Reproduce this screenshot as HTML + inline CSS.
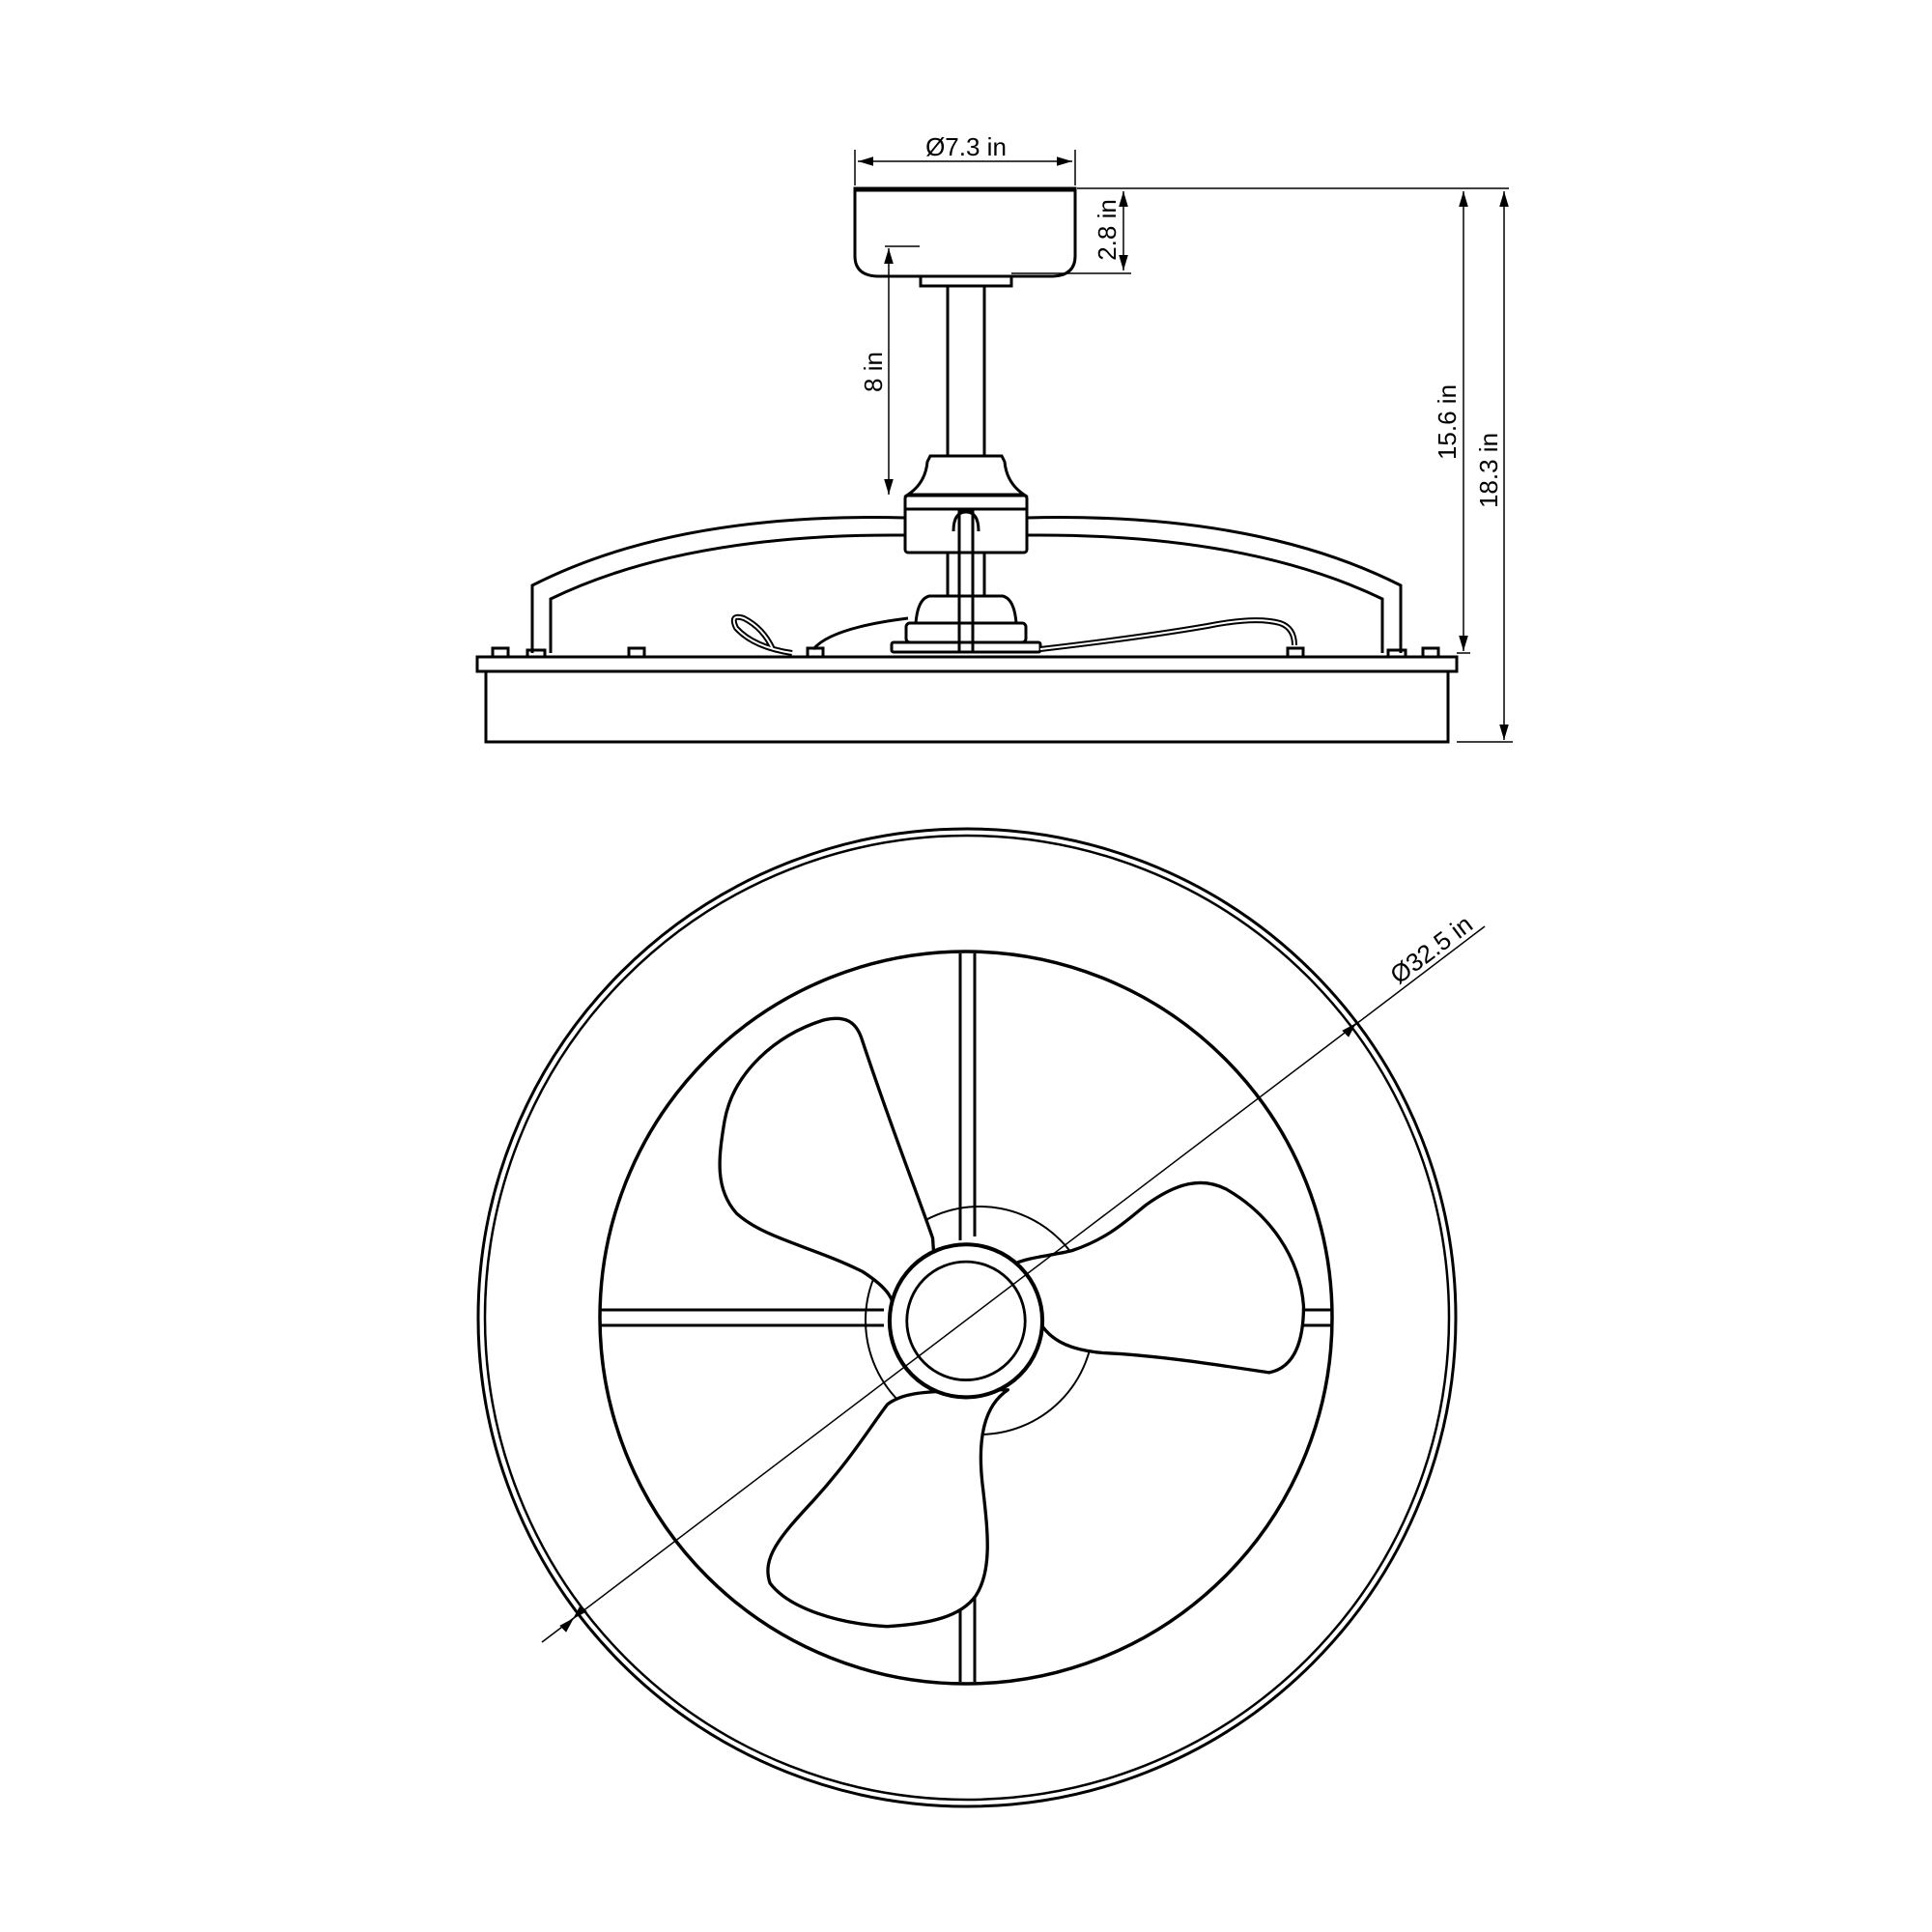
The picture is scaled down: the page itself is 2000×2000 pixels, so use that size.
<!DOCTYPE html>
<html><head><meta charset="utf-8"><style>
html,body{margin:0;padding:0;background:#fff}
svg{display:block}
text{font-family:"Liberation Sans",sans-serif;fill:#000}
</style></head><body>
<svg width="2000" height="2000" viewBox="0 0 2000 2000" xmlns="http://www.w3.org/2000/svg">
<defs>
<marker id="a" viewBox="0 0 10 10" refX="10" refY="5" markerWidth="16" markerHeight="16" markerUnits="userSpaceOnUse" orient="auto-start-reverse"><path d="M0,2 L10,5 L0,8 z" fill="#000"/></marker>
</defs>
<g fill="none" stroke="#000" stroke-width="3">
<path d="M885,195 H1113 V265 Q1113,285 1090,286 H908 Q885,285 885,265 Z"/>
<line x1="885" y1="196" x2="1113" y2="196" stroke-width="5"/>
<rect x="953" y="286" width="94" height="10"/>
<rect x="981" y="296" width="38" height="176"/>
<path d="M963,472 H1037 L1040,478 Q1042,500 1060,512 H940 Q958,500 960,478 Z"/>
<rect x="937" y="513" width="126" height="59" rx="3"/>
<line x1="937" y1="527" x2="1063" y2="527"/>
<path d="M937,536 Q700,530 551,606 V676"/>
<path d="M937,554 Q710,552 570,620 V676"/>
<path d="M1063,536 Q1300,530 1450,606 V676"/>
<path d="M1063,554 Q1290,552 1431,620 V676"/>
<rect x="993" y="530" width="14" height="145"/>
<path d="M987,550 Q987,530 1000,530 Q1013,530 1013,550"/>
<rect x="981" y="572" width="38" height="45"/>
<path d="M962,617 H1038 Q1050,620 1052,645 H948 Q950,620 962,617 Z"/>
<rect x="938" y="645" width="124" height="20" rx="4"/>
<rect x="923" y="665" width="154" height="10" rx="2"/>
<path d="M842,672 Q860,650 940,640"/>
<path d="M800,672 Q790,650 770,640 Q755,635 762,650 Q780,670 820,676" stroke-width="6"/>
<path d="M800,672 Q790,650 770,640 Q755,635 762,650 Q780,670 820,676" stroke="#fff" stroke-width="2"/>
<path d="M1077,672 Q1180,660 1250,648 Q1300,638 1325,645 Q1340,650 1340,668" stroke-width="6"/>
<path d="M1077,672 Q1180,660 1250,648 Q1300,638 1325,645 Q1340,650 1340,668" stroke="#fff" stroke-width="2"/>
<rect x="494" y="680" width="1014" height="15"/>
<rect x="503" y="695" width="996" height="73"/>
<rect x="510" y="671" width="16" height="9"/>
<rect x="546" y="673" width="18" height="7"/>
<rect x="651" y="671" width="16" height="9"/>
<rect x="836" y="671" width="16" height="9"/>
<rect x="1333" y="671" width="16" height="9"/>
<rect x="1437" y="673" width="18" height="7"/>
<rect x="1473" y="671" width="16" height="9"/>
</g>
<g stroke="#000" stroke-width="1.5" fill="none">
<line x1="885" y1="155" x2="885" y2="192"/><line x1="1113" y1="155" x2="1113" y2="192"/>
<line x1="888" y1="167" x2="1110" y2="167" marker-start="url(#a)" marker-end="url(#a)"/>
<line x1="1115" y1="195" x2="1562" y2="195"/>
<line x1="1047" y1="283" x2="1171" y2="283"/>
<line x1="1163" y1="198" x2="1163" y2="280" marker-start="url(#a)" marker-end="url(#a)"/>
<line x1="916" y1="255" x2="952" y2="255"/>
<line x1="920" y1="257" x2="920" y2="512" marker-start="url(#a)" marker-end="url(#a)"/>
<line x1="1515" y1="198" x2="1515" y2="674" marker-start="url(#a)" marker-end="url(#a)"/>
<line x1="1508" y1="676" x2="1522" y2="676"/>
<line x1="1557" y1="198" x2="1557" y2="766" marker-start="url(#a)" marker-end="url(#a)"/>
<line x1="1508" y1="768" x2="1566" y2="768"/>
</g>
<text x="1000" y="161" font-size="26" text-anchor="middle">Ø7.3 in</text>
<text transform="translate(1155,238) rotate(-90)" font-size="26" text-anchor="middle">2.8 in</text>
<text transform="translate(913,385) rotate(-90)" font-size="26" text-anchor="middle">8 in</text>
<text transform="translate(1507,437) rotate(-90)" font-size="26" text-anchor="middle">15.6 in</text>
<text transform="translate(1550,487) rotate(-90)" font-size="26" text-anchor="middle">18.3 in</text>
<g fill="none" stroke="#000" stroke-width="3">
<circle cx="1001" cy="1364" r="506"/>
<circle cx="1001" cy="1364" r="499" stroke-width="2.5"/>
<circle cx="1000" cy="1364" r="379" stroke-width="3.5"/>
<path d="M994,987 V1284 M1009,987 V1280"/>
<path d="M994,1600 V1741 M1009,1600 V1741"/>
<path d="M622,1356 H915 M622,1372 H915"/>
<path d="M1348,1356 H1378 M1348,1372 H1378"/>
<circle cx="1014" cy="1367" r="118" stroke-width="2"/>
</g>
<g transform="scale(1.2755)" fill="#fff" stroke="#000" stroke-width="2.6" stroke-linejoin="round">
<path d="M757,1005 C745,970 725,920 700,845 C695,828 685,824 668,828 C630,840 595,870 588,910 C583,940 580,965 598,985 C620,1005 660,1012 700,1032 C720,1045 728,1055 725,1070 L760,1050 Z"/>
<path d="M815,1030 C830,1020 850,1020 870,1015 C900,1005 915,990 930,978 C955,960 975,955 995,965 C1030,985 1055,1020 1058,1060 C1058,1090 1050,1110 1030,1114 C990,1108 940,1100 895,1098 C872,1096 855,1090 845,1075 Z"/>
<path d="M818,1128 C800,1140 792,1165 798,1210 C802,1245 805,1275 792,1295 C780,1312 755,1318 720,1320 C680,1318 640,1305 625,1285 C618,1265 632,1248 660,1218 C690,1185 705,1160 720,1140 C735,1128 760,1130 790,1128 Z"/>
<circle cx="784" cy="1072" r="62" stroke-width="3.2"/>
<circle cx="784" cy="1072" r="48" stroke-width="2.2"/>
</g>
<g stroke="#000" stroke-width="1.5" fill="none">
<line x1="561" y1="1700" x2="1537" y2="959"/>
<line x1="593" y1="1676" x2="594" y2="1675" marker-start="url(#a)" marker-end="url(#a)"/>
<line x1="1403" y1="1060" x2="1404" y2="1059" marker-end="url(#a)"/>
</g>
<text transform="translate(1487,990) rotate(-37)" font-size="26" text-anchor="middle">Ø32.5 in</text>
</svg>
</body></html>
